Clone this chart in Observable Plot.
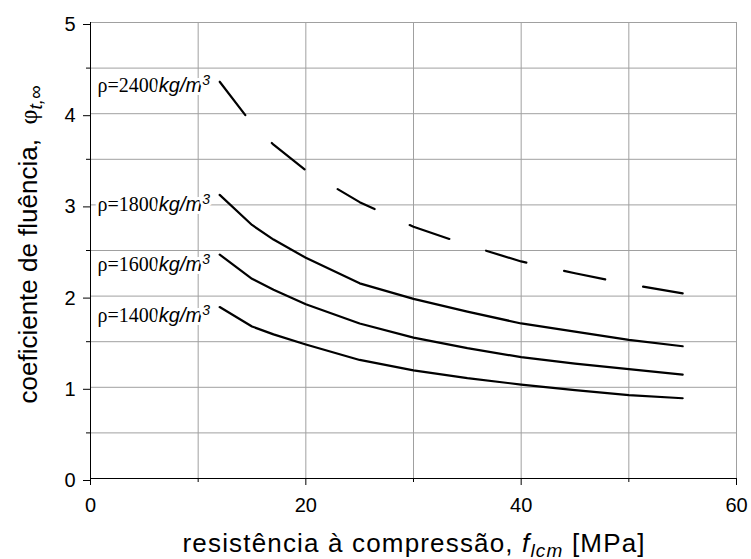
<!DOCTYPE html>
<html>
<head>
<meta charset="utf-8">
<script src="https://cdn.jsdelivr.net/npm/d3@7"></script>
<script src="https://cdn.jsdelivr.net/npm/@observablehq/plot@0.6"></script>
<style>
  html, body { margin: 0; padding: 0; background: #fff; }
  #chart svg { display: block; }
</style>
</head>
<body>
<div id="chart"></div>
<script>
// ---- data ----
const fcm = [12, 15, 17, 20, 25, 30, 35, 40, 45, 50, 55];
const phi2400 = [4.35, 3.89, 3.66, 3.38, 3.03, 2.76, 2.56, 2.38, 2.25, 2.13, 2.03];
const phi1800 = [3.11, 2.78, 2.62, 2.42, 2.14, 1.97, 1.83, 1.70, 1.61, 1.52, 1.45];
const phi1600 = [2.455, 2.19, 2.07, 1.91, 1.70, 1.545, 1.43, 1.33, 1.26, 1.20, 1.14];
const phi1400 = [1.88, 1.667, 1.58, 1.47, 1.30, 1.185, 1.10, 1.03, 0.97, 0.915, 0.88];
const densities = [2400, 1800, 1600, 1400];
const labelPhi = [4.31, 3.00, 2.35, 1.79];
const labelFcm = 11.1;

const xTicks = [0, 20, 40, 60];
const xMinorTicks = [10, 30, 50];
const yTicks = [0, 1, 2, 3, 4, 5];
const yMinorTicks = [0.5, 1.5, 2.5, 3.5, 4.5];
const xGrid = [10, 20, 30, 40, 50, 60];
const yGrid = [0.5, 1, 1.5, 2, 2.5, 3, 3.5, 4, 4.5, 5];

const xTitle = "resistência à compressão, flcm [MPa]";
const yTitle = "coeficiente de fluência, φt,∞";

// ---- build tables ----
const seriesValues = [phi2400, phi1800, phi1600, phi1400];
const rows = densities.flatMap((rho, s) =>
  fcm.map((x, i) => ({rho, fcm: x, phi: seriesValues[s][i]})));
const labels = densities.map((rho, i) => ({rho, fcm: labelFcm, phi: labelPhi[i]}));

const SANS = "Arial, 'Liberation Sans', sans-serif";
const SERIF = "'Times New Roman', 'Liberation Serif', serif";

const chart = Plot.plot({
  width: 751,
  height: 559,
  marginLeft: 90,
  marginRight: 15,
  marginTop: 22,
  marginBottom: 81,
  x: {domain: [0, 60]},
  y: {domain: [0, 5]},
  style: {fontFamily: SANS, fontSize: "20px", color: "#000", background: "#fff", overflow: "visible"},
  marks: [
    Plot.ruleX(xGrid, {stroke: "#a0a0a0", strokeWidth: 1}),
    Plot.ruleY(yGrid, {stroke: "#a0a0a0", strokeWidth: 1}),
    Plot.ruleX([0], {stroke: "#000", strokeWidth: 1}),
    Plot.ruleY([0], {stroke: "#000", strokeWidth: 1}),
    Plot.axisX(xTicks, {tickSize: 7, tickPadding: 12, fontSize: 20, label: null, stroke: "#000", tickFormat: "d"}),
    Plot.axisX(xMinorTicks, {tickSize: 4, tickFormat: () => "", label: null, stroke: "#000"}),
    Plot.axisY(yTicks, {tickSize: 7, tickPadding: 8, fontSize: 20, label: null, stroke: "#000", dy: 2, tickFormat: "d"}),
    Plot.axisY(yMinorTicks, {tickSize: 4, tickFormat: () => "", label: null, stroke: "#000"}),
    Plot.line(rows.filter(d => d.rho !== 2400), {x: "fcm", y: "phi", z: "rho", stroke: "#000", strokeWidth: 2.2}),
    Plot.line(rows.filter(d => d.rho === 2400), {x: "fcm", y: "phi", stroke: "#000", strokeWidth: 2.2, strokeDasharray: "42,38.6"}),
    Plot.text(labels, {x: "fcm", y: "phi", text: d => `ρ=${d.rho}kg/m3`, textAnchor: "end",
      fontSize: 20, fill: "#000", stroke: "#fff", strokeWidth: 6}),
    Plot.text([xTitle], {frameAnchor: "bottom", textAnchor: "middle", dy: 73, fontSize: 26, fill: "#000"}),
    Plot.text([yTitle], {frameAnchor: "left", textAnchor: "middle", rotate: -90, dx: -62, dy: -6, fontSize: 26, fill: "#000"})
  ]
});

// ---- rich text (italics, sub/superscripts) ----
function rich(el, parts, length) {
  const sel = d3.select(el);
  sel.text(null);
  for (const p of parts) {
    const t = sel.append("tspan").text(p.text);
    if (p.family) t.attr("font-family", p.family);
    if (p.italic) t.attr("font-style", "italic");
    if (p.size) t.attr("font-size", p.size);
    if (p.dy != null) t.attr("dy", p.dy);
  }
  if (length) sel.attr("textLength", length).attr("lengthAdjust", "spacing");
}
d3.select(chart).selectAll("text").each(function () {
  const s = this.textContent;
  const m = s.match(/^ρ=(\d+)kg\/m3$/);
  if (m) {
    rich(this, [
      {text: "ρ=" + m[1], family: SERIF},
      {text: "kg/m", family: SANS, italic: true},
      {text: "3", family: SANS, italic: true, size: 14, dy: -7}
    ]);
  } else if (s === xTitle) {
    rich(this, [
      {text: "resistência à compressão, "},
      {text: "f", italic: true},
      {text: "lcm", italic: true, size: 19, dy: 5},
      {text: " [MPa]", dy: -5}
    ], 462);
  } else if (s === yTitle) {
    rich(this, [
      {text: "coeficiente de fluência,  "},
      {text: "φ", family: SERIF},
      {text: "t,∞", italic: true, size: 19, dy: 5}
    ], 318);
  }
});

document.getElementById("chart").appendChild(chart);
</script>
</body>
</html>
